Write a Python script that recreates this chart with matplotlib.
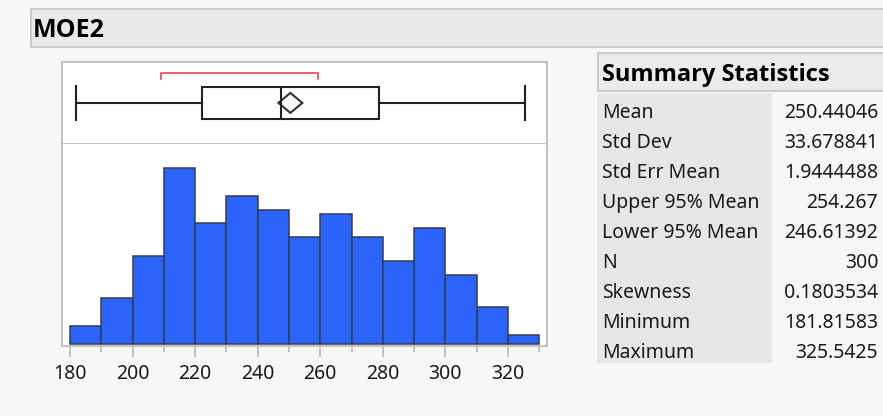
import matplotlib.pyplot as plt
from matplotlib.patches import Rectangle, Polygon

plt.rcParams["font.family"] = ["Noto Sans", "DejaVu Sans"]

# MOE2 distribution
bin_edges = [180, 190, 200, 210, 220, 230, 240, 250, 260, 270, 280, 290, 300, 310, 320, 330]
counts = [4, 10, 19, 38, 26, 32, 29, 23, 28, 23, 18, 25, 15, 8, 2]

# quantile box
q_min, q1, median, q3, q_max = 181.81583, 222.1, 247.3, 278.9, 325.5425
shortest_half = (209.1, 259.2)
mean, lower_ci, upper_ci = 250.44046, 246.61392, 254.267

stat_names = ["Mean", "Std Dev", "Std Err Mean", "Upper 95% Mean", "Lower 95% Mean",
              "N", "Skewness", "Minimum", "Maximum"]
stat_values = ["250.44046", "33.678841", "1.9444488", "254.267", "246.61392",
               "300", "0.1803534", "181.81583", "325.5425"]

major_ticks = [180, 200, 220, 240, 260, 280, 300, 320]
minor_ticks = [190, 210, 230, 250, 270, 290, 310, 330]

W, H = 883, 416
BG = "#f7f7f7"
BORDER = "#b8b8b8"
HEAD_FONT = ["Open Sans", "Roboto", "DejaVu Sans"]


def fx(px):
    return px / W


def fy(py):
    return 1 - py / H


def frame(x0, y0, x1, y1, fc, ec=None, lw=1.2):
    rect = Rectangle((fx(x0), fy(y1)), fx(x1) - fx(x0), fy(y0) - fy(y1),
                     transform=fig.transFigure, facecolor=fc,
                     edgecolor=ec if ec else "none", linewidth=lw, zorder=0)
    fig.add_artist(rect)


fig = plt.figure(figsize=(W / 100, H / 100), dpi=100, facecolor=BG)

# outline header
frame(31, 9.5, 895, 47, "#e9e9e9", "#c4c4c4")
fig.text(fx(33), fy(37.3), "MOE2", fontsize=18, fontweight="bold", va="baseline",
         family=HEAD_FONT)

# panel geometry in pixels
left, right = 61.7, 547.3
top_box, split, bottom = 62.3, 143.5, 345.7
xlim = (177.35, 332.56)

ax_box = fig.add_axes([fx(left), fy(split), fx(right) - fx(left), fy(top_box) - fy(split)])
ax_hist = fig.add_axes([fx(left), fy(bottom), fx(right) - fx(left), fy(split) - fy(bottom)])

for ax in (ax_box, ax_hist):
    ax.set_facecolor("white")
    ax.set_xlim(*xlim)
    for sp in ax.spines.values():
        sp.set_color(BORDER)
        sp.set_linewidth(1.2)

# box plot
ax_box.set_ylim(0, 1)
ax_box.set_xticks([])
ax_box.set_yticks([])
yc, half = 0.5, 0.196
ax_box.add_patch(Rectangle((q1, yc - half), q3 - q1, 2 * half, facecolor="none",
                           edgecolor="#222222", linewidth=1.5))
ax_box.plot([median, median], [yc - half, yc + half], color="#222222", lw=1.5)
ax_box.plot([q_min, q1], [yc, yc], color="#222222", lw=1.5)
ax_box.plot([q3, q_max], [yc, yc], color="#222222", lw=1.5)
for v in (q_min, q_max):
    ax_box.plot([v, v], [yc - 0.205, yc + 0.205], color="#222222", lw=1.5)
dh = 0.123
ax_box.add_patch(Polygon([(lower_ci, yc), (mean, yc + dh), (upper_ci, yc), (mean, yc - dh)],
                         closed=True, facecolor="none", edgecolor="#333333", linewidth=1.5))
sx0, sx1 = shortest_half
ax_box.plot([sx0, sx0, sx1, sx1], [0.794, 0.872, 0.872, 0.794], color="#f0434f", lw=1.2)

# histogram
widths = [b - a for a, b in zip(bin_edges[:-1], bin_edges[1:])]
ax_hist.bar(bin_edges[:-1], counts, width=widths, align="edge", color="#2a64fb",
            edgecolor="#333d52", linewidth=1.1)
ax_hist.set_ylim(-0.3, 43.2)
ax_hist.set_yticks([])
ax_hist.spines["top"].set_visible(False)
ax_hist.set_xticks(major_ticks)
ax_hist.set_xticks(minor_ticks, minor=True)
ax_hist.tick_params(axis="x", which="major", length=8, width=1.2, color=BORDER,
                    labelsize=14, pad=5.5, labelcolor="#1a1a1a")
ax_hist.tick_params(axis="x", which="minor", length=4.3, width=1.2, color=BORDER)

# summary statistics table
frame(598, 53, 895, 91, "#ebebeb", "#c4c4c4")
fig.text(fx(601.7), fy(80.7), "Summary Statistics", fontsize=17, fontweight="bold",
         va="baseline", family=HEAD_FONT)
frame(597, 93.3, 771.7, 363.3, "#e6e6e6")
for i, (name, val) in enumerate(zip(stat_names, stat_values)):
    base = 118.3 + i * 29.9
    fig.text(fx(601.7), fy(base), name, fontsize=14, va="baseline", color="#1a1a1a")
    fig.text(fx(878.3), fy(base), val, fontsize=14, va="baseline", ha="right", color="#1a1a1a")

fig.savefig("out.png", dpi=100, facecolor=BG)
